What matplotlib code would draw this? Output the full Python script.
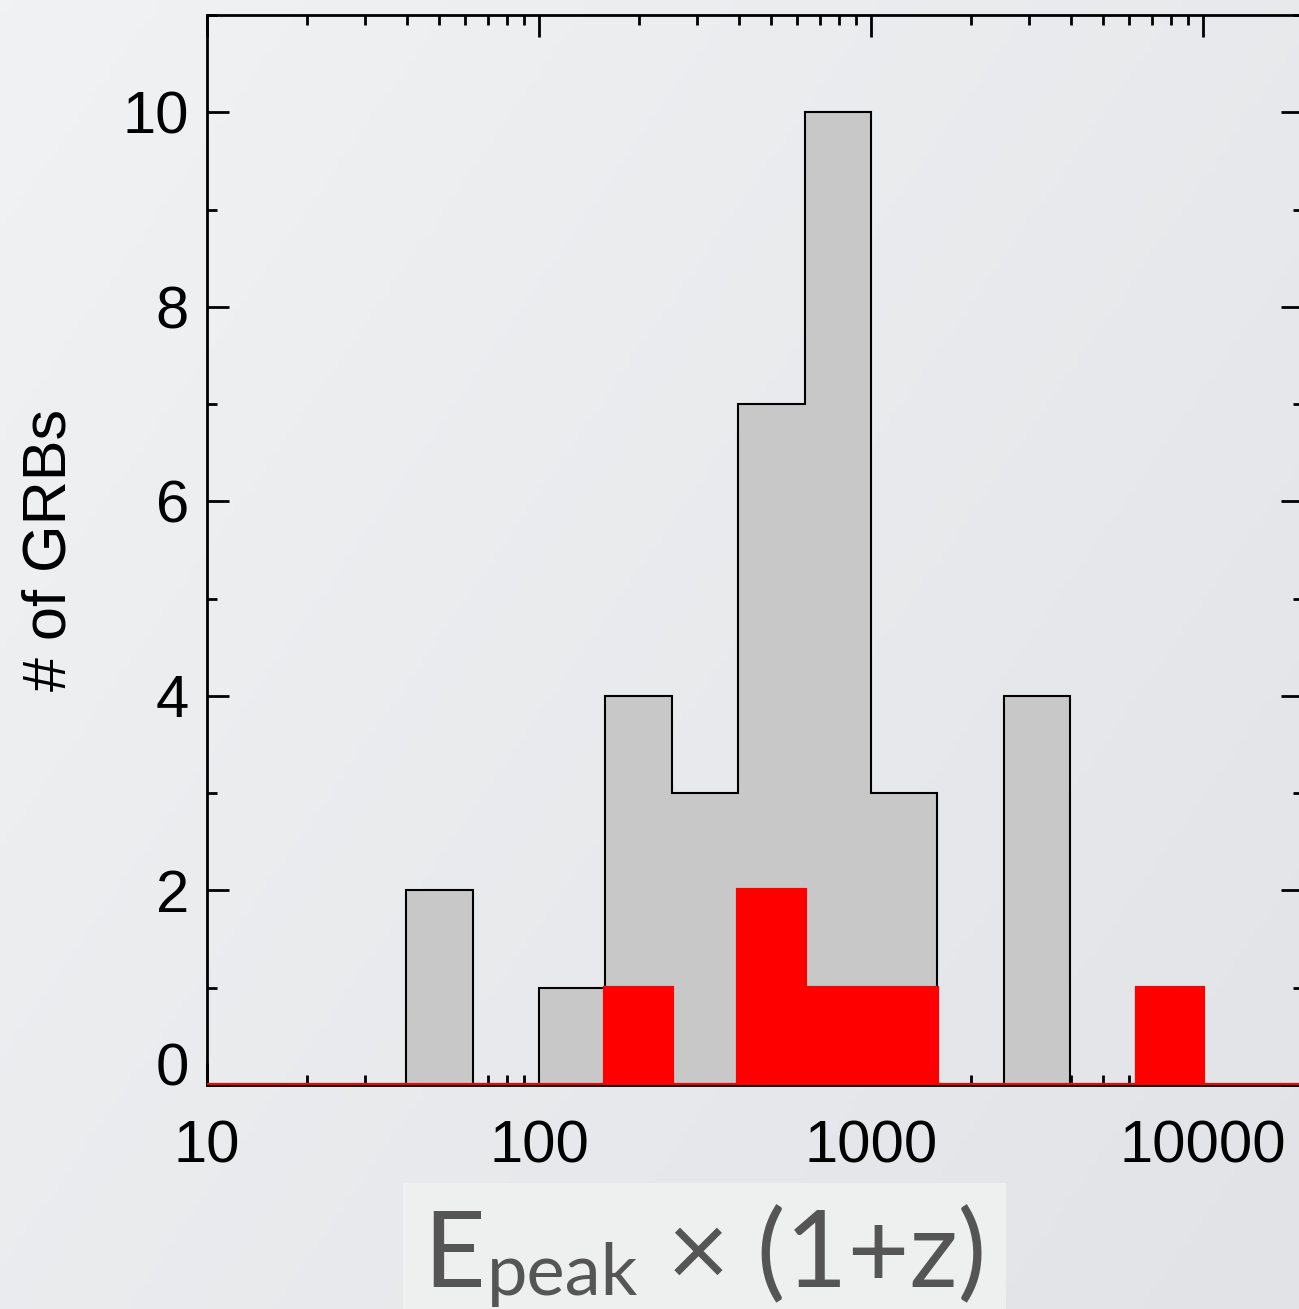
import matplotlib.pyplot as plt
import matplotlib.ticker as mticker
from matplotlib.colors import LinearSegmentedColormap
import numpy as np

plt.rcParams['font.family'] = ['Liberation Sans', 'DejaVu Sans']

# histogram bins, log10(Epeak*(1+z)), 0.2 dex wide
log_edges = [1.0, 1.2, 1.4, 1.6, 1.8, 2.0, 2.2, 2.4, 2.6, 2.8,
             3.0, 3.2, 3.4, 3.6, 3.8, 4.0, 4.2, 4.4]
all_counts = [0, 0, 0, 2, 0, 1, 4, 3, 7, 10, 3, 0, 4, 0, 0, 0, 0]
red_counts = [0, 0, 0, 0, 0, 0, 1, 0, 2, 1, 1, 0, 0, 0, 1, 0, 0]
xticks = [10, 100, 1000, 10000]
xticklabels = ['10', '100', '1000', '10000']
yticks = [0, 2, 4, 6, 8, 10]

edges = 10 ** np.array(log_edges)

W, H = 1299, 1309
fig = plt.figure(figsize=(W / 100, H / 100), dpi=100)

# slide-style background gradient
bg = fig.add_axes([0, 0, 1, 1], zorder=-10)
yy, xx = np.mgrid[0:1:200j, 0:1:200j]
shade = 0.5 * xx + 0.35 * yy
bg.imshow(shade, cmap=LinearSegmentedColormap.from_list('bg', ['#f1f2f3', '#e1e3e7']),
          aspect='auto', extent=[0, 1, 0, 1], vmin=0, vmax=0.85)
bg.add_patch(plt.Rectangle((403 / W, 0), (1006 - 403) / W, (H - 1183) / H,
                           color='#eef0ef', lw=0))
bg.set_axis_off()

ax = fig.add_axes([207 / W, (H - 1085) / H, (1303 - 207) / W, (1085 - 15) / H])
ax.patch.set_visible(False)
ax.set_axisbelow(True)

ax.stairs(all_counts, edges, fill=True, color='#c8c8c8', lw=0, zorder=1)
ax.stairs(all_counts, edges, color='black', lw=1.5, baseline=0, zorder=2)
ax.stairs(red_counts, edges, fill=True, color='#ff0000', lw=0, zorder=3)
ax.stairs(red_counts, edges, color='#ff0000', lw=3, baseline=None, zorder=3)

ax.set_xscale('log')
ax.set_xlim(10, 20000)
ax.set_ylim(0, 11)

ax.xaxis.set_major_locator(mticker.FixedLocator(xticks))
ax.xaxis.set_major_formatter(mticker.FixedFormatter(xticklabels))
ax.xaxis.set_minor_locator(mticker.LogLocator(base=10, subs=np.arange(2, 10)))
ax.xaxis.set_minor_formatter(mticker.NullFormatter())
ax.yaxis.set_major_locator(mticker.FixedLocator(yticks))
ax.yaxis.set_minor_locator(mticker.MultipleLocator(1))

for s in ax.spines.values():
    s.set_linewidth(2)
ax.tick_params(which='both', direction='in', top=True, right=True, width=2)
ax.tick_params(which='major', length=16, labelsize=43)
ax.tick_params(which='minor', length=7)
ax.tick_params(axis='x', pad=25)
ax.tick_params(axis='y', pad=13)
ax.get_yticklabels()[0].set_va('baseline')

fig.text(50 / W, 1 - 550 / H, '# of GRBs', rotation=90, ha='center', va='center',
         fontsize=44)

# x label built piece by piece: E, subscript "peak", then the rest
renderer = fig.canvas.get_renderer()
lab = dict(color='#555555', family='Lato', va='baseline')
x0, base = 423, H - 1287
pieces = [('E', 77, 0), ('peak', 52, -8), (' × (1+z)', 77, 0)]
for s, size, dy in pieces:
    t = fig.text(x0 / W, (base + dy) / H, s, fontsize=size, **lab)
    x0 = t.get_window_extent(renderer).x1 + 2

fig.savefig('out.png', dpi=100)
